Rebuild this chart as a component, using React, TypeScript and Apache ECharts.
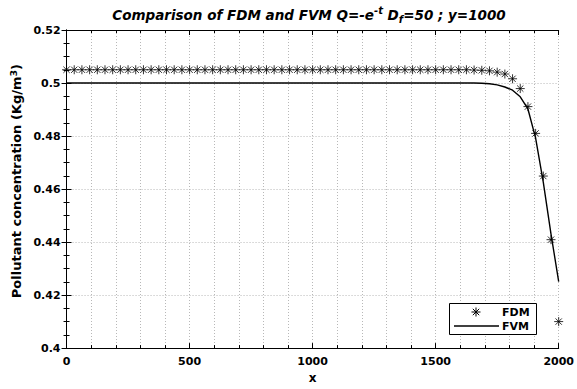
import React, { useEffect, useRef } from "react";
import * as echarts from "echarts";

const xValues = [
  0, 31.25, 62.5, 93.75, 125, 156.25, 187.5, 218.75, 250, 281.25, 312.5, 343.75, 375, 406.25, 437.5, 468.75,
  500, 531.25, 562.5, 593.75, 625, 656.25, 687.5, 718.75, 750, 781.25, 812.5, 843.75, 875, 906.25, 937.5, 968.75,
  1000, 1031.25, 1062.5, 1093.75, 1125, 1156.25, 1187.5, 1218.75, 1250, 1281.25, 1312.5, 1343.75, 1375, 1406.25, 1437.5, 1468.75,
  1500, 1531.25, 1562.5, 1593.75, 1625, 1656.25, 1687.5, 1718.75, 1750, 1781.25, 1812.5, 1843.75, 1875, 1906.25, 1937.5, 1968.75,
  2000,
];

const fdmValues = [
  0.505, 0.505, 0.505, 0.505, 0.505, 0.505, 0.505, 0.505, 0.505, 0.505, 0.505, 0.505, 0.505, 0.505, 0.505, 0.505,
  0.505, 0.505, 0.505, 0.505, 0.505, 0.505, 0.505, 0.505, 0.505, 0.505, 0.505, 0.505, 0.505, 0.505, 0.505, 0.505,
  0.505, 0.505, 0.505, 0.505, 0.505, 0.505, 0.505, 0.505, 0.505, 0.505, 0.505, 0.505, 0.505, 0.505, 0.505, 0.505,
  0.505, 0.505, 0.505, 0.505, 0.505, 0.5049, 0.5048, 0.5046, 0.5041, 0.5034, 0.5016, 0.4979, 0.4911, 0.481, 0.4649, 0.4409,
  0.41,
];

const fvmValues = [
  0.5, 0.5, 0.5, 0.5, 0.5, 0.5, 0.5, 0.5, 0.5, 0.5, 0.5, 0.5, 0.5, 0.5, 0.5, 0.5,
  0.5, 0.5, 0.5, 0.5, 0.5, 0.5, 0.5, 0.5, 0.5, 0.5, 0.5, 0.5, 0.5, 0.5, 0.5, 0.5,
  0.5, 0.5, 0.5, 0.5, 0.5, 0.5, 0.5, 0.5, 0.5, 0.5, 0.5, 0.5, 0.5, 0.5, 0.5, 0.5,
  0.5, 0.5, 0.5, 0.5, 0.5, 0.5, 0.4999, 0.4997, 0.4993, 0.4985, 0.4973, 0.4948, 0.4902, 0.4792, 0.4625, 0.443,
  0.4251,
];

const xTicks = [0, 500, 1000, 1500, 2000];
const yTicks = [0.4, 0.42, 0.44, 0.46, 0.48, 0.5, 0.52];

const FONT = "DejaVu Sans";
const STAR = "path://M5 0 L5 10 M0 5 L10 5 M1.5 1.5 L8.5 8.5 M8.5 1.5 L1.5 8.5";

export default function App() {
  const ref = useRef<HTMLDivElement>(null);
  useEffect(() => {
    if (!ref.current) return;
    const chart = echarts.init(ref.current, null, { renderer: "svg" });
    const dotted = { show: true, lineStyle: { color: "#b8b8b8", type: [1, 2] as any, width: 1 } };
    const axisBase = {
      type: "value" as const,
      axisLine: { show: true, lineStyle: { color: "#000", width: 1 } },
      axisTick: { show: true, inside: true, length: 5, lineStyle: { color: "#000" } },
      minorTick: { show: true, length: 3, lineStyle: { color: "#000" } },
    };
    const label = { fontFamily: FONT, fontWeight: "bold" as const, fontSize: 11, color: "#000" };
    chart.setOption({
      animation: false,
      backgroundColor: "#fff",
      title: {
        text: "Comparison of FDM and FVM Q=-e{sup|-t} D{sub|f}=50 ; y=1000",
        left: 304,
        textAlign: "center",
        top: 0,
        textStyle: {
          fontFamily: FONT,
          fontWeight: "bold",
          fontStyle: "italic",
          fontSize: 13.5,
          color: "#000",
          lineHeight: 19,
          rich: {
            sup: { fontFamily: FONT, fontWeight: "bold", fontStyle: "italic", fontSize: 10, verticalAlign: "top", lineHeight: 19, padding: [0, 0, 6, 0] },
            sub: { fontFamily: FONT, fontWeight: "bold", fontStyle: "italic", fontSize: 10, verticalAlign: "bottom", lineHeight: 19, padding: [8, 0, 0, 0] },
          },
        },
      },
      grid: { left: 66, right: 18, top: 30, bottom: 39, containLabel: false },
      xAxis: [
        {
          ...axisBase,
          position: "bottom",
          min: 0,
          max: 2000,
          interval: 500,
          minorTick: { ...axisBase.minorTick, splitNumber: 5 },
          splitLine: dotted,
          minorSplitLine: dotted,
          axisLabel: { ...label, margin: 8, formatter: (v: number) => (xTicks.includes(v) ? String(v) : "") },
          name: "x",
          nameLocation: "middle",
          nameGap: 23,
          nameTextStyle: { ...label, fontSize: 12 },
        },
        {
          ...axisBase,
          position: "top",
          min: 0,
          max: 2000,
          interval: 500,
          minorTick: { ...axisBase.minorTick, splitNumber: 5 },
          splitLine: { show: false },
          axisLabel: { show: false },
        },
      ],
      yAxis: [
        {
          ...axisBase,
          position: "left",
          min: 0.4,
          max: 0.52,
          interval: 0.02,
          minorTick: { ...axisBase.minorTick, splitNumber: 4 },
          splitLine: dotted,
          axisLabel: {
            ...label,
            margin: 6,
            formatter: (v: number) => {
              const r = Math.round(v * 100) / 100;
              return yTicks.some((t) => Math.abs(t - r) < 1e-9) ? String(r) : "";
            },
          },
          name: "Pollutant concentration (Kg/m{sup|3})",
          nameLocation: "middle",
          nameGap: 42,
          nameTextStyle: {
            ...label,
            fontSize: 13,
            fontWeight: "bold",
            padding: [0, 0, 0, 16],
            rich: {
              sup: { fontFamily: FONT, fontWeight: "bold", fontSize: 9.5, verticalAlign: "top", padding: [0, 0, 6, 0] },
            },
          },
        },
        {
          ...axisBase,
          position: "right",
          min: 0.4,
          max: 0.52,
          interval: 0.02,
          minorTick: { ...axisBase.minorTick, splitNumber: 4 },
          splitLine: { show: false },
          axisLabel: { show: false },
        },
      ],
      series: [
        {
          name: "FVM",
          type: "line",
          data: xValues.map((x, i) => [x, fvmValues[i]]),
          showSymbol: false,
          symbol: "none",
          lineStyle: { color: "#000", width: 1.4 },
          z: 3,
        },
        {
          name: "FDM",
          type: "scatter",
          data: xValues.map((x, i) => [x, fdmValues[i]]),
          symbol: STAR,
          symbolSize: 9,
          itemStyle: { color: "#000", borderColor: "#000", borderWidth: 1 },
          clip: false,
          z: 4,
        },
      ],
      graphic: [
        {
          type: "rect",
          shape: { x: 449.5, y: 303.5, width: 87, height: 31 },
          style: { fill: "#fff", stroke: "#000", lineWidth: 1 },
          z: 100,
        },
        { type: "line", shape: { x1: 476, y1: 307.5, x2: 476, y2: 316.5 }, style: { stroke: "#000", lineWidth: 1 }, z: 101 },
        { type: "line", shape: { x1: 471.5, y1: 312, x2: 480.5, y2: 312 }, style: { stroke: "#000", lineWidth: 1 }, z: 101 },
        { type: "line", shape: { x1: 472.8, y1: 308.8, x2: 479.2, y2: 315.2 }, style: { stroke: "#000", lineWidth: 1 }, z: 101 },
        { type: "line", shape: { x1: 479.2, y1: 308.8, x2: 472.8, y2: 315.2 }, style: { stroke: "#000", lineWidth: 1 }, z: 101 },
        { type: "line", shape: { x1: 454, y1: 326, x2: 499, y2: 326 }, style: { stroke: "#000", lineWidth: 1.4 }, z: 101 },
        {
          type: "text",
          x: 502,
          y: 312,
          style: { text: "FDM", font: `bold 11px "${FONT}"`, fill: "#000", verticalAlign: "middle", align: "left" },
          z: 101,
        },
        {
          type: "text",
          x: 502,
          y: 326,
          style: { text: "FVM", font: `bold 11px "${FONT}"`, fill: "#000", verticalAlign: "middle", align: "left" },
          z: 101,
        },
      ],
    });
    return () => chart.dispose();
  }, []);
  return <div ref={ref} style={{ position: "fixed", left: 0, top: 0, width: 577, height: 389, background: "#fff" }} />;
}
